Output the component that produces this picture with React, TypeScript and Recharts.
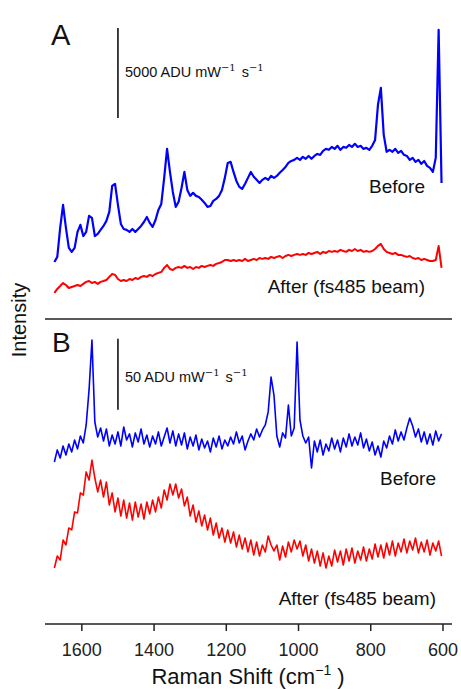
import { Line, LineChart, ReferenceLine, XAxis, YAxis } from "recharts";

// Raman shift grid (cm-1), shared by both panels
const shift = [
  1676, 1668, 1660, 1652, 1644, 1636, 1628, 1620, 1612, 1604,
  1596, 1588, 1580, 1572, 1564, 1556, 1548, 1540, 1532, 1524,
  1516, 1508, 1500, 1492, 1484, 1476, 1468, 1460, 1452, 1444,
  1436, 1428, 1420, 1412, 1404, 1396, 1388, 1380, 1372, 1364,
  1356, 1348, 1340, 1332, 1324, 1316, 1308, 1300, 1292, 1284,
  1276, 1268, 1260, 1252, 1244, 1236, 1228, 1220, 1212, 1204,
  1196, 1188, 1180, 1172, 1164, 1156, 1148, 1140, 1132, 1124,
  1116, 1108, 1100, 1092, 1084, 1076, 1068, 1060, 1052, 1044,
  1036, 1028, 1020, 1012, 1004, 996, 988, 980, 972, 964,
  956, 948, 940, 932, 924, 916, 908, 900, 892, 884,
  876, 868, 860, 852, 844, 836, 828, 820, 812, 804,
  796, 788, 780, 772, 764, 756, 748, 740, 732, 724,
  716, 708, 700, 692, 684, 676, 668, 660, 652, 644,
  636, 628, 620, 612, 604,
];

// panel A, ADU mW-1 s-1
const beforeA = [
  3170, 3450, 5060, 6340, 5060, 3950, 3730, 3950, 4840, 5230,
  4610, 4840, 5730, 5620, 4610, 4730, 4950, 5170, 5450, 5950,
  7390, 7510, 6340, 5280, 5000, 4950, 4840, 5000, 4840, 5000,
  5170, 5390, 5670, 5340, 5120, 5500, 6060, 6390, 7840, 9450,
  8170, 7060, 6230, 6510, 7280, 8170, 7170, 6840, 7010, 6840,
  6780, 6620, 6450, 6230, 6280, 6560, 6670, 6840, 7170, 7840,
  8670, 8730, 8170, 7670, 7340, 7230, 7510, 7840, 8170, 7900,
  7730, 7560, 7730, 7840, 7730, 7950, 7840, 7950, 8120, 8280,
  8450, 8670, 8780, 8840, 8950, 8840, 9010, 8900, 9060, 8900,
  9060, 9170, 9120, 9340, 9450, 9400, 9560, 9450, 9620, 9400,
  9560, 9510, 9670, 9560, 9730, 9560, 9620, 9450, 9510, 9400,
  9620, 9950, 11900, 12840, 10230, 9290, 9400, 9290, 9450, 9230,
  9340, 9120, 9060, 8840, 8950, 8730, 8840, 8620, 8780, 8510,
  8400, 8170, 8950, 16070, 7550,
];

const afterA = [
  1450, 1670, 1830, 2000, 1890, 1720, 1780, 1830, 1890, 1830,
  1950, 2060, 2110, 2000, 2060, 1950, 2060, 2110, 2170, 2340,
  2500, 2450, 2220, 2110, 2170, 2110, 2220, 2170, 2280, 2220,
  2340, 2390, 2340, 2450, 2390, 2500, 2560, 2610, 2840, 3000,
  2780, 2720, 2840, 2890, 2840, 2950, 2840, 2890, 2780, 2890,
  2840, 2950, 2890, 2950, 3000, 2950, 3060, 3110, 3170, 3280,
  3280, 3220, 3280, 3220, 3280, 3220, 3340, 3220, 3280, 3340,
  3280, 3390, 3340, 3390, 3340, 3450, 3390, 3450, 3500, 3390,
  3500, 3560, 3500, 3560, 3610, 3560, 3610, 3560, 3670, 3610,
  3670, 3730, 3610, 3730, 3670, 3780, 3730, 3780, 3730, 3840,
  3780, 3730, 3840, 3780, 3890, 3780, 3840, 3730, 3780, 3730,
  3780, 3890, 4060, 4170, 3890, 3730, 3670, 3610, 3670, 3560,
  3560, 3500, 3450, 3500, 3390, 3340, 3390, 3280, 3340, 3280,
  3220, 3220, 3280, 4060, 2840,
];

// panel B, ADU mW-1 s-1
const beforeB = [
  114.2, 122.7, 117.0, 125.5, 119.1, 126.9, 121.3, 129.7, 123.4, 132.5,
  127.6, 140.3, 165.0, 200.2, 142.4, 131.8, 138.2, 129.0, 137.5, 125.5,
  133.2, 126.9, 135.4, 125.5, 138.9, 129.7, 134.0, 124.8, 134.7, 128.3,
  137.5, 126.9, 133.2, 124.8, 132.5, 126.9, 135.4, 125.5, 131.8, 138.2,
  127.6, 136.1, 125.5, 134.0, 126.2, 134.7, 123.4, 131.8, 125.5, 133.2,
  122.7, 130.4, 124.1, 129.0, 121.3, 131.1, 124.8, 132.5, 123.4, 129.7,
  125.5, 131.8, 126.9, 135.4, 127.6, 132.5, 122.7, 129.0, 134.0, 129.7,
  137.5, 131.8, 136.8, 140.3, 149.5, 174.1, 161.4, 132.5, 124.8, 134.7,
  131.1, 154.4, 132.5, 138.2, 198.8, 143.8, 132.5, 127.6, 131.8, 110.0,
  129.0, 121.3, 129.7, 119.1, 126.9, 122.0, 131.1, 123.4, 129.7, 121.3,
  131.1, 124.8, 134.0, 125.5, 131.8, 126.2, 134.7, 124.1, 130.4, 122.0,
  128.3, 119.1, 125.5, 117.7, 129.0, 124.1, 132.5, 126.9, 136.8, 129.0,
  135.4, 129.7, 138.2, 145.2, 139.6, 131.8, 137.5, 128.3, 135.4, 126.9,
  134.0, 126.2, 136.1, 129.0, 134.0,
];

const afterB = [
  39.5, 47.9, 45.1, 59.2, 55.7, 67.7, 66.3, 79.0, 78.3, 92.4,
  90.9, 107.2, 101.5, 115.6, 102.9, 93.1, 101.5, 89.5, 100.1, 83.9,
  92.4, 79.0, 88.8, 76.1, 87.4, 74.7, 85.3, 73.3, 86.0, 75.4,
  84.6, 74.0, 86.0, 77.6, 87.4, 79.0, 89.5, 81.8, 94.5, 87.4,
  98.7, 90.9, 98.7, 88.8, 95.2, 83.2, 89.5, 76.1, 83.9, 71.9,
  79.7, 69.1, 76.8, 66.3, 74.7, 62.7, 71.2, 60.6, 67.7, 57.8,
  66.3, 57.1, 64.9, 54.3, 62.7, 52.9, 60.6, 50.8, 59.2, 48.6,
  57.8, 47.9, 55.7, 50.8, 62.0, 55.7, 51.5, 55.7, 45.1, 55.0,
  47.2, 57.8, 50.8, 59.2, 52.9, 58.5, 47.9, 55.7, 44.4, 52.9,
  43.0, 51.5, 40.9, 50.1, 39.5, 47.9, 40.9, 52.2, 43.7, 51.5,
  41.6, 52.9, 44.4, 53.6, 43.0, 51.5, 45.1, 54.3, 44.4, 52.9,
  45.8, 56.4, 47.2, 55.7, 46.5, 57.1, 48.6, 58.5, 47.9, 57.1,
  50.8, 59.9, 50.1, 58.5, 52.2, 60.6, 50.1, 57.8, 50.8, 59.2,
  48.6, 57.1, 51.5, 58.5, 47.9,
];

const xTicks = [600, 800, 1000, 1200, 1400, 1600];
const xDomain = [575, 1702];

const panelA = shift.map((s, i) => ({ shift: s, before: beforeA[i], after: afterA[i] }));
const panelB = shift.map((s, i) => ({ shift: s, before: beforeB[i], after: afterB[i] }));

const FRAME = "#222";
const FONT = "'Liberation Sans', Arial, sans-serif";
const frameLine = { stroke: FRAME, strokeWidth: 1.5 };

function Frame({ yDomain, bottomLabels }: { yDomain: number[]; bottomLabels: boolean }) {
  return [
    <XAxis
      key="xb"
      xAxisId="b"
      dataKey="shift"
      type="number"
      domain={xDomain}
      reversed
      ticks={xTicks}
      tick={bottomLabels ? { fontSize: 18, fill: "#222", fontFamily: FONT } : false}
      tickSize={7}
      tickMargin={12}
      height={bottomLabels ? 30 : 11}
      axisLine={frameLine}
      tickLine={frameLine}
    />,
    <XAxis
      key="xt"
      xAxisId="t"
      orientation="top"
      dataKey="shift"
      type="number"
      domain={xDomain}
      reversed
      height={0}
      tick={false}
      tickLine={false}
      axisLine={frameLine}
    />,
    <YAxis key="yl" yAxisId="l" domain={yDomain} width={0} tick={false} tickLine={false} axisLine={frameLine} />,
    <YAxis
      key="yr"
      yAxisId="r"
      orientation="right"
      domain={yDomain}
      width={0}
      tick={false}
      tickLine={false}
      axisLine={frameLine}
    />,
  ];
}

function Spectrum({ dataKey, color, width }: { dataKey: string; color: string; width: number }) {
  return (
    <Line
      xAxisId="b"
      yAxisId="l"
      type="linear"
      dataKey={dataKey}
      stroke={color}
      strokeWidth={width}
      strokeLinejoin="round"
      dot={false}
      activeDot={false}
      isAnimationActive={false}
    />
  );
}

export default function App() {
  return (
    <div style={{ position: "absolute", left: 0, top: 0, width: 461, height: 689, background: "#fff" }}>
      <div style={{ position: "absolute", left: 0, top: 0 }}>
        <LineChart width={461} height={330} data={panelA} margin={{ top: 13, right: 9, bottom: 0, left: 45 }}>
          {Frame({ yDomain: [0, 17000], bottomLabels: false })}
          {Spectrum({ dataKey: "after", color: "#ff0000", width: 2 })}
          {Spectrum({ dataKey: "before", color: "#0000ff", width: 2.2 })}
          <ReferenceLine
            xAxisId="b"
            yAxisId="l"
            segment={[
              { x: 1500, y: 11170 },
              { x: 1500, y: 16170 },
            ]}
            stroke="#111"
            strokeWidth={1.6}
          />
        </LineChart>
      </div>
      <div style={{ position: "absolute", left: 0, top: 310 }}>
        <LineChart width={461} height={379} data={panelB} margin={{ top: 9, right: 9, bottom: 35, left: 45 }}>
          {Frame({ yDomain: [0, 215], bottomLabels: true })}
          {Spectrum({ dataKey: "after", color: "#ff0000", width: 1.6 })}
          {Spectrum({ dataKey: "before", color: "#0000ff", width: 1.6 })}
          <ReferenceLine
            xAxisId="b"
            yAxisId="l"
            segment={[
              { x: 1500, y: 151 },
              { x: 1500, y: 201 },
            ]}
            stroke="#111"
            strokeWidth={1.6}
          />
        </LineChart>
      </div>
      <svg
        width={461}
        height={689}
        style={{ position: "absolute", left: 0, top: 0, pointerEvents: "none" }}
        fontFamily={FONT}
        fill="#111"
      >
        <text x={51} y={45} fontSize={29}>A</text>
        <text x={52} y={352} fontSize={28}>B</text>

        <text x={125} y={77} fontSize={14.5}>
          5000 ADU mW
          <tspan dy={-6} fontSize={10} fontFamily="'DejaVu Serif', serif">−1</tspan>
          <tspan dx={6} dy={6}>s</tspan>
          <tspan dy={-6} fontSize={10} fontFamily="'DejaVu Serif', serif">−1</tspan>
        </text>
        <text x={125} y={382} fontSize={14.5}>
          50 ADU mW
          <tspan dy={-6} fontSize={10} fontFamily="'DejaVu Serif', serif">−1</tspan>
          <tspan dx={6} dy={6}>s</tspan>
          <tspan dy={-6} fontSize={10} fontFamily="'DejaVu Serif', serif">−1</tspan>
        </text>

        <text x={425} y={193} fontSize={19} textAnchor="end">Before</text>
        <text x={425} y={293} fontSize={19} textAnchor="end">After (fs485 beam)</text>
        <text x={436} y={485} fontSize={19} textAnchor="end">Before</text>
        <text x={436} y={605} fontSize={19} textAnchor="end">After (fs485 beam)</text>

        <text x={26} y={320} fontSize={20} textAnchor="middle" transform="rotate(-90 26 320)">
          Intensity
        </text>
        <text x={248} y={684} fontSize={22} textAnchor="middle">
          Raman Shift (cm
          <tspan dy={-9} fontSize={14}>−1</tspan>
          <tspan dy={9}> )</tspan>
        </text>
      </svg>
    </div>
  );
}
